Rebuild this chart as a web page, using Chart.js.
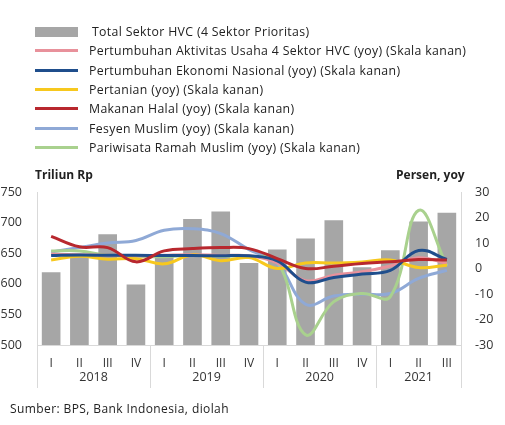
<!DOCTYPE html>
<html lang="id">
<head>
    <meta charset="UTF-8">
    <script src="https://cdn.jsdelivr.net/npm/chart.js@4.4.0/dist/chart.umd.min.js"></script>
    <title>Sektor HVC</title>
    <style>
        body { margin: 0; background: #fff; font-family: "Open Sans", sans-serif; color: #222; }
        #wrap { position: relative; width: 505px; height: 425px; overflow: hidden; }
        #chart { position: absolute; left: 0; top: 0; }
        #legend { position: absolute; left: 35px; top: 22px; font-size: 12.3px; letter-spacing: 0.34px; }
        .row { height: 19.3px; display: flex; align-items: center; white-space: nowrap; }
        .sw { width: 43px; margin-right: 11px; }
        .lbl { position: absolute; font-size: 12px; font-weight: bold; top: 166px; }
        #src { position: absolute; left: 10px; top: 400px; font-size: 12px; letter-spacing: 0.4px; }
    </style>
</head>
<body>
<div id="wrap">
    <canvas id="chart" width="505" height="425"></canvas>
    <div id="legend"></div>
    <div class="lbl" style="left:35px">Triliun Rp</div>
    <div class="lbl" style="left:396px">Persen, yoy</div>
    <div id="src">Sumber: BPS, Bank Indonesia, diolah</div>
</div>
<script>
    // quarters and years
    const quarters = ['I','II','III','IV','I','II','III','IV','I','II','III','IV','I','II','III'];
    const years = ['2018','2019','2020','2021'];

    // total HVC sectors, trillion Rp (left axis)
    const totalHVC = [619, 646, 681, 599, 645, 706, 718, 634, 656, 674, 704, 627, 655, 702, 716];

    // growth yoy, percent (right axis)
    const hvcGrowth   = [5.6, 5.4, 5.2, 4.9, 5.2, 5.4, 5.1, 5.0, 2.2, -4.8, -2.6, -1.3, 1.0, 4.2, 2.0];
    const ekonomi     = [5.07, 5.27, 5.17, 5.18, 5.07, 5.05, 5.02, 4.97, 2.97, -5.32, -3.49, -2.19, -0.74, 7.07, 3.51];
    const pertanian   = [3.34, 4.76, 3.62, 3.87, 1.82, 5.33, 3.08, 4.26, 0.02, 2.19, 2.16, 2.59, 3.33, 0.38, 1.31];
    const makanan     = [12.6, 8.5, 8.2, 2.6, 6.9, 7.8, 8.2, 7.8, 3.9, 0.0, 0.9, 2.0, 2.6, 3.5, 3.3];
    const fesyen      = [6.5, 8.2, 10.0, 11.0, 15.0, 15.6, 13.7, 7.4, 2.0, -14.0, -10.8, -10.0, -9.8, -3.9, -0.7];
    const pariwisata  = [6.9, 6.9, 5.2, 4.8, 4.6, 5.2, 4.8, 4.8, 2.6, -26.0, -13.0, -9.8, -11.0, 22.8, 1.0];

    const legendItems = [
        { text: 'Total Sektor HVC (4 Sektor Prioritas)', color: '#a6a6a6', bar: true },
        { text: 'Pertumbuhan Aktivitas Usaha 4 Sektor HVC (yoy) (Skala kanan)', color: '#e8919b' },
        { text: 'Pertumbuhan Ekonomi Nasional (yoy) (Skala kanan)', color: '#1f4e8c' },
        { text: 'Pertanian (yoy) (Skala kanan)', color: '#f7c81e' },
        { text: 'Makanan Halal (yoy) (Skala kanan)', color: '#b8282e' },
        { text: 'Fesyen Muslim (yoy) (Skala kanan)', color: '#8fa9d6' },
        { text: 'Pariwisata Ramah Muslim (yoy) (Skala kanan)', color: '#a9d18e' }
    ];

    const legend = document.getElementById('legend');
    legendItems.forEach(item => {
        const row = document.createElement('div');
        row.className = 'row';
        const sw = document.createElement('div');
        sw.className = 'sw';
        sw.style.background = item.color;
        sw.style.height = item.bar ? '10px' : '3px';
        if (item.bar) sw.style.marginRight = '14px';
        row.appendChild(sw);
        row.appendChild(document.createTextNode(item.text));
        legend.appendChild(row);
    });

    function line(data, color, order) {
        return {
            type: 'line', data: data, yAxisID: 'y1', borderColor: color, backgroundColor: color,
            borderWidth: 3, pointRadius: 0, tension: 0.4, fill: false, order: order
        };
    }

    // year labels and group separators under the quarter ticks
    const yearPlugin = {
        id: 'years',
        afterDraw(chart) {
            const ctx = chart.ctx;
            const x = chart.scales.x;
            const area = chart.chartArea;
            const step = x.getPixelForValue(1) - x.getPixelForValue(0);
            ctx.save();
            ctx.strokeStyle = '#d9d9d9';
            ctx.lineWidth = 1;
            ctx.fillStyle = '#333';
            ctx.font = '12.5px "Open Sans"';
            ctx.textAlign = 'center';
            ctx.textBaseline = 'middle';
            years.forEach((yr, g) => {
                const first = g * 4;
                const last = Math.min(first + 3, quarters.length - 1);
                const x0 = x.getPixelForValue(first) - step / 2;
                const x1 = x.getPixelForValue(last) + step / 2;
                [x0, x1].forEach(px => {
                    ctx.beginPath();
                    ctx.moveTo(Math.round(px) + 0.5, area.bottom);
                    ctx.lineTo(Math.round(px) + 0.5, area.bottom + 43);
                    ctx.stroke();
                });
                ctx.fillText(yr, (x0 + x1) / 2, area.bottom + 32);
            });
            ctx.restore();
        }
    };

    const ctx = document.getElementById('chart').getContext('2d');
    new Chart(ctx, {
        data: {
            labels: quarters,
            datasets: [
                line(makanan, '#b8282e', 1),
                line(ekonomi, '#1f4e8c', 2),
                line(pertanian, '#f7c81e', 3),
                line(hvcGrowth, '#e8919b', 4),
                line(pariwisata, '#a9d18e', 5),
                line(fesyen, '#8fa9d6', 6),
                {
                    type: 'bar', data: totalHVC, yAxisID: 'y', backgroundColor: '#a6a6a6',
                    categoryPercentage: 1, barPercentage: 0.66, order: 10
                }
            ]
        },
        options: {
            responsive: false,
            animation: false,
            layout: { padding: { top: 192, bottom: 58, left: 0, right: 0 } },
            plugins: { legend: { display: false }, tooltip: { enabled: false } },
            scales: {
                x: {
                    grid: { display: false },
                    border: { display: true, color: '#d9d9d9' },
                    ticks: { color: '#333', font: { family: 'Open Sans', size: 12 }, padding: 3, maxRotation: 0, autoSkip: false },
                    afterFit(s) { s.height = 22; }
                },
                y: {
                    position: 'left', min: 500, max: 750,
                    grid: { display: false },
                    border: { display: true, color: '#d9d9d9' },
                    ticks: { stepSize: 50, color: '#333', font: { family: 'Open Sans', size: 12.5 }, padding: 7 },
                    afterFit(s) { s.width = 37; }
                },
                y1: {
                    position: 'right', min: -30, max: 30,
                    grid: { display: false },
                    border: { display: true, color: '#d9d9d9' },
                    ticks: { stepSize: 10, color: '#333', font: { family: 'Open Sans', size: 12.5 }, padding: 6 },
                    afterFit(s) { s.width = 44; }
                }
            }
        },
        plugins: [yearPlugin]
    });
</script>
</body>
</html>
